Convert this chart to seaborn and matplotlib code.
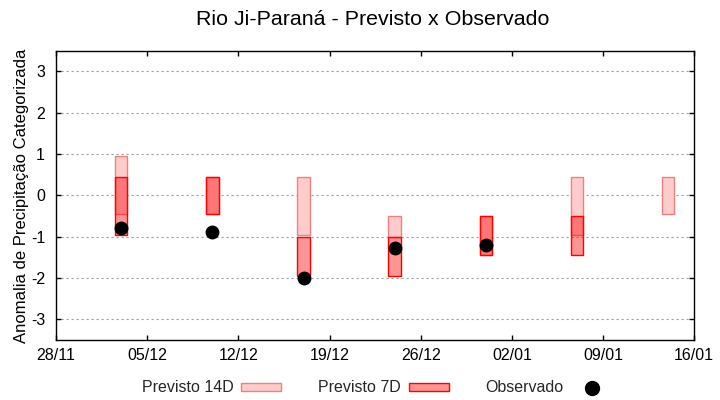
import matplotlib
matplotlib.use('Agg')
from matplotlib import pyplot as plt
from matplotlib.patches import Patch
from matplotlib.lines import Line2D
import matplotlib.dates as mdates
import seaborn as sns
import numpy as np
import pandas as pd

# dates of each forecast week (year is not shown in the chart)
dates = ['2021-12-03', '2021-12-10', '2021-12-17', '2021-12-24',
         '2021-12-31', '2022-01-07', '2022-01-14']

# forecast ranges (low, high) - 14 days ahead
prev14_low = [-0.45, -0.45, -0.95, -1.0, -1.45, -0.95, -0.45]
prev14_high = [0.95, 0.45, 0.45, -0.5, -0.5, 0.45, 0.45]

# forecast ranges (low, high) - 7 days ahead
prev7_low = [-0.95, -0.45, -1.95, -1.95, -1.45, -1.45, np.nan]
prev7_high = [0.45, 0.45, -1.0, -1.0, -0.5, -0.5, np.nan]

# observed anomaly
observado = [-0.8, -0.88, -2.0, -1.27, -1.2, np.nan, np.nan]

yticks = [-3, -2, -1, 0, 1, 2, 3]

df = pd.DataFrame({'data': pd.to_datetime(dates),
                   'p14_low': prev14_low, 'p14_high': prev14_high,
                   'p7_low': prev7_low, 'p7_high': prev7_high,
                   'obs': observado})

sns.set_theme(style='white')
plt.rcParams['font.family'] = ['Liberation Sans', 'DejaVu Sans']

c14_face = '#FFCCCC'
c14_edge = '#F08080'
c7_face = (1.0, 0.0, 0.0, 0.42)
c7_edge = '#FF0000'

fig = plt.figure(figsize=(7.2, 4), dpi=100)
ax = fig.add_subplot(111)
fig.subplots_adjust(left=0.078, right=0.964, top=0.873, bottom=0.15)

ax.bar(df['data'], df['p14_high'] - df['p14_low'], bottom=df['p14_low'], width=0.95,
       facecolor=c14_face, edgecolor=c14_edge, linewidth=1.0, zorder=2)
d7 = df.dropna(subset=['p7_low'])
ax.bar(d7['data'], d7['p7_high'] - d7['p7_low'], bottom=d7['p7_low'], width=0.95,
       facecolor=c7_face, edgecolor=c7_edge, linewidth=1.0, zorder=3)
sns.scatterplot(data=df.dropna(subset=['obs']), x='data', y='obs', color='black',
                s=100, edgecolor='black', linewidth=0, ax=ax, zorder=4, legend=False)

ax.set_xlim(pd.Timestamp('2021-11-28'), pd.Timestamp('2022-01-16'))
ax.set_ylim(-3.5, 3.5)
ax.set_yticks(yticks)
ax.set_yticklabels([str(t) for t in yticks])
ax.set_xticks(pd.date_range('2021-11-28', '2022-01-16', freq='7D'))
ax.xaxis.set_major_formatter(mdates.DateFormatter('%d/%m'))

ax.yaxis.grid(True, color='#A0A0A0', linestyle=(0, (2, 2.5)), linewidth=0.8, zorder=0)
ax.set_axisbelow(True)
for s in ax.spines.values():
    s.set_visible(True)
    s.set_color('black')
    s.set_linewidth(1.0)
ax.tick_params(axis='both', which='major', direction='in', length=3.5, width=1,
               color='black', labelsize=11.5, labelcolor='black',
               top=True, right=True, bottom=True, left=True)
ax.tick_params(axis='y', pad=8)
ax.tick_params(axis='x', pad=6)
ax.set_xlabel('')
ax.set_ylabel('Anomalia de Precipitação Categorizada', fontsize=12.0, color='black', labelpad=1)

fig.text(0.518, 0.952, 'Rio Ji-Paraná - Previsto x Observado', ha='center', va='center',
         fontsize=15.4, color='black')

handles = [Patch(facecolor=c14_face, edgecolor=c14_edge, linewidth=1.0),
           Patch(facecolor=c7_face, edgecolor=c7_edge, linewidth=1.0),
           Line2D([], [], linestyle='none', marker='o', markersize=10, color='black')]
labels = ['Previsto 14D', 'Previsto 7D', 'Observado']
fig.legend(handles, labels, loc='center', bbox_to_anchor=(0.523, 0.03), ncol=3,
           frameon=False, markerfirst=False, fontsize=11.5, handlelength=2.5,
           handleheight=0.45, handletextpad=0.5, columnspacing=2.3)

plt.savefig('out.png', dpi=100)
